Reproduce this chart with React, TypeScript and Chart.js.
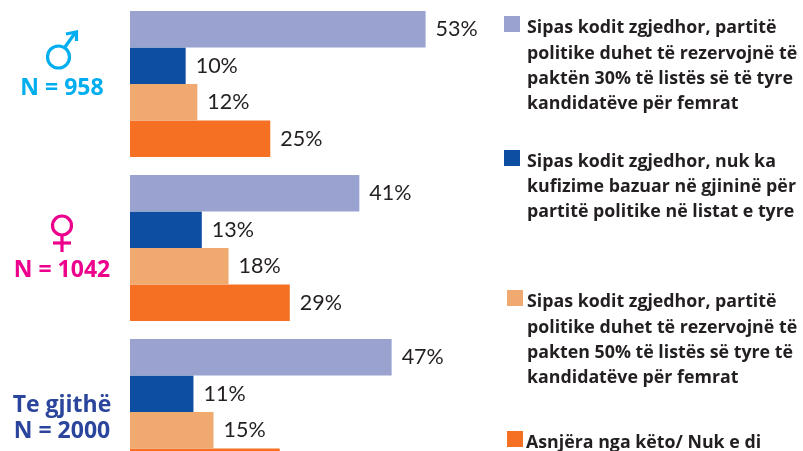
import React, { useEffect, useRef } from "react";
import { Chart, registerables } from "chart.js";

Chart.register(...registerables);

const groups = ["Burra", "Gra", "Te gjithë"];
const seriesA = [53.1, 41.2, 47];
const seriesB = [10, 12.9, 11.4];
const seriesC = [12.1, 17.7, 15];
const seriesD = [25.2, 28.7, 26.9];

const colors = ["#9aa2d0", "#0d4ea2", "#f0a96e", "#f57022"];

const legendA = ["Sipas kodit zgjedhor, partitë", "politike duhet të rezervojnë të", "paktën 30% të listës së të tyre", "kandidatëve për femrat"];
const legendB = ["Sipas kodit zgjedhor, nuk ka", "kufizime bazuar në gjininë për", "partitë politike në listat e tyre"];
const legendC = ["Sipas kodit zgjedhor, partitë", "politike duhet të rezervojnë të", "pakten 50% të listës së tyre të", "kandidatëve për femrat"];
const legendD = ["Asnjëra nga këto/ Nuk e di"];

const legendLayout = [
  { lines: legendA, sx: 504, sy: 16, tx: 527, base: [33, 58.5, 83.5, 108.5] },
  { lines: legendB, sx: 504, sy: 150, tx: 527, base: [167, 192, 217] },
  { lines: legendC, sx: 507, sy: 290, tx: 527, base: [307, 332.5, 358, 383] },
  { lines: legendD, sx: 507, sy: 431, tx: 526, base: [448] },
];

const sideLabels = [
  { text: "N = 958", y: 95, color: "#00aeef" },
  { text: "N = 1042", y: 277, color: "#ec008c" },
  { text: "Te gjithë", y: 412, color: "#2b459c" },
  { text: "N = 2000", y: 438, color: "#2b459c" },
];

function stroke(ctx: any, pts: number[][]) {
  ctx.beginPath();
  pts.forEach((p, i) => (i ? ctx.lineTo(p[0], p[1]) : ctx.moveTo(p[0], p[1])));
  ctx.stroke();
}

function drawSymbols(ctx: any) {
  ctx.lineWidth = 3.2;
  ctx.strokeStyle = "#00aeef";
  ctx.beginPath();
  ctx.arc(58.5, 57, 11, 0, Math.PI * 2);
  ctx.stroke();
  stroke(ctx, [[65, 47], [75, 33]]);
  stroke(ctx, [[66, 34], [76.5, 32], [76.5, 41]]);

  ctx.strokeStyle = "#ec008c";
  ctx.beginPath();
  ctx.arc(62, 225.5, 9.5, 0, Math.PI * 2);
  ctx.stroke();
  stroke(ctx, [[62, 235], [62, 252]]);
  stroke(ctx, [[53, 243], [71, 243]]);
}

const overlay = {
  id: "overlay",
  afterDatasetsDraw(chart: any) {
    const ctx = chart.ctx;
    ctx.save();
    ctx.textBaseline = "alphabetic";

    ctx.font = "21.5px Lato";
    ctx.fillStyle = "#231f20";
    ctx.textAlign = "left";
    chart.data.datasets.forEach((ds: any, i: number) => {
      chart.getDatasetMeta(i).data.forEach((bar: any, j: number) => {
        ctx.fillText(Math.round(ds.data[j]) + "%", bar.x + 10, bar.y + 7);
      });
    });

    ctx.font = 'bold 17.8px "Open Sans"';
    legendLayout.forEach((item, i) => {
      ctx.fillStyle = colors[i];
      ctx.fillRect(item.sx, item.sy, 16, 16);
      ctx.fillStyle = "#231f20";
      item.lines.forEach((line, k) => ctx.fillText(line, item.tx, item.base[k]));
    });

    ctx.textAlign = "center";
    ctx.font = 'bold 23px "Open Sans"';
    sideLabels.forEach((l) => {
      ctx.fillStyle = l.color;
      ctx.fillText(l.text, 62, l.y);
    });
    drawSymbols(ctx);
    ctx.restore();
  },
};

export default function App() {
  const ref = useRef<HTMLCanvasElement>(null);
  useEffect(() => {
    const series = [seriesA, seriesB, seriesC, seriesD];
    const chart = new Chart(ref.current!, {
      type: "bar",
      data: {
        labels: groups,
        datasets: series.map((data, i) => ({
          label: legendLayout[i].lines.join(" "),
          data,
          backgroundColor: colors[i],
          borderWidth: 0,
          barPercentage: 1,
          categoryPercentage: 0.89,
        })),
      },
      options: {
        indexAxis: "y",
        animation: false,
        responsive: false,
        layout: { padding: { left: 130, right: 5, top: 2, bottom: 6 } },
        plugins: { legend: { display: false }, tooltip: { enabled: false } },
        scales: {
          x: { display: false, min: 0, max: 120 },
          y: { display: false },
        },
      },
      plugins: [overlay],
    } as any);
    return () => chart.destroy();
  }, []);
  return (
    <div style={{ position: "absolute", left: 0, top: 0, width: 803, height: 451, overflow: "hidden", background: "#fff" }}>
      <canvas ref={ref} width={803} height={500} style={{ display: "block" }} />
    </div>
  );
}
